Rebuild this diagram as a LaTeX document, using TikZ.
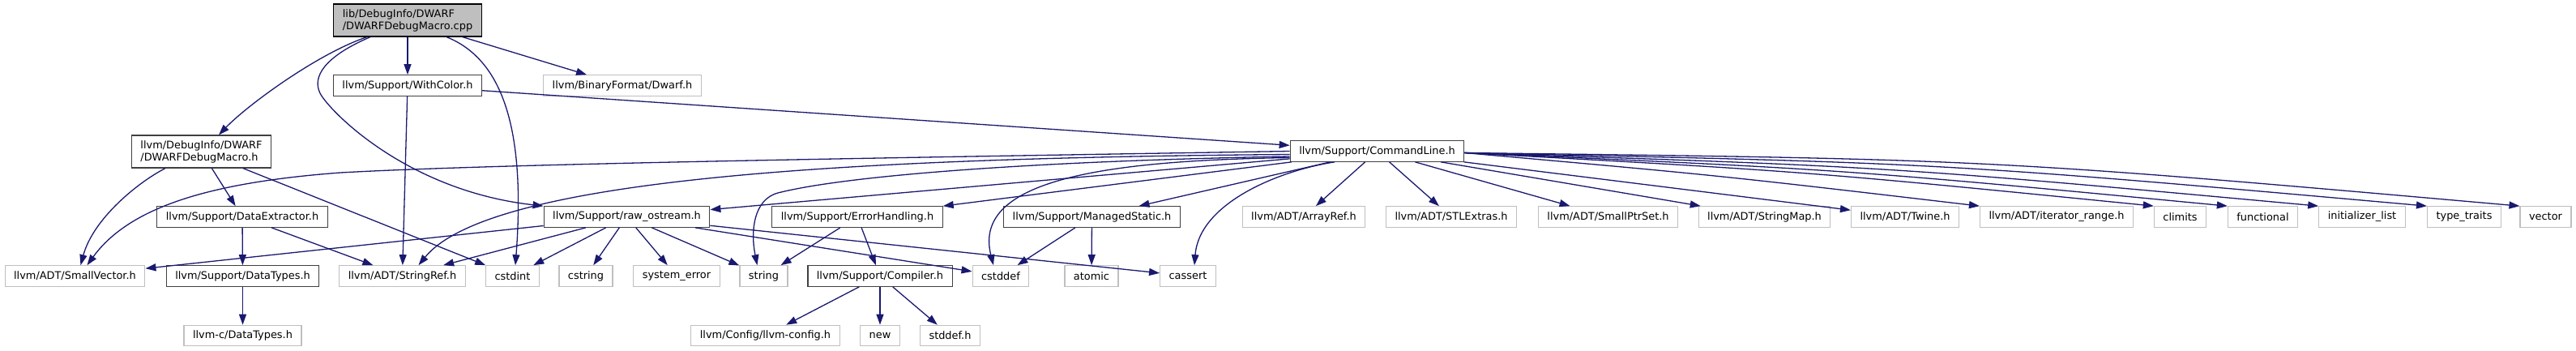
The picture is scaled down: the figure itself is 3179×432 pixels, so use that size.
\documentclass[tikz,border=0pt]{standalone}
\usepackage{fontspec}
\setmainfont{DejaVu Sans}
\usepackage{tikz}
\usetikzlibrary{arrows.meta, positioning}
\definecolor{edgeblue}{HTML}{191970}
\definecolor{nodegray}{HTML}{BFBFBF}

\begin{document}
\begin{tikzpicture}[
        x=1pt, y=-1pt,
        file/.style={rectangle, draw=black!75, fill=white, line width=1.2pt,
                     minimum height=25.5pt, inner xsep=11pt, inner ysep=0pt,
                     font=\fontsize{12.9}{15}\selectfont},
        extfile/.style={file, draw=nodegray},
        twoline/.style={align=left, minimum height=40pt},
        arrow/.style={-{Triangle[length=13pt, width=9pt]}, draw=edgeblue, line width=1.3pt},
    ]
    \useasboundingbox (0,0) rectangle (3179,432);

    % ====== top: the source file and its direct includes ======
    \node[file, twoline, fill=nodegray, draw=black] (main) at (503, 25)
        {lib/DebugInfo/DWARF\\/DWARFDebugMacro.cpp};
    \node[file]    (withcolor) at (503, 105.5) {llvm/Support/WithColor.h};
    \node[extfile] (dwarf)     at (768, 105.5) {llvm/BinaryFormat/Dwarf.h};
    \node[file, twoline] (dwmacro) at (248.5, 187) {llvm/DebugInfo/DWARF\\/DWARFDebugMacro.h};
    \node[file]    (cmdline)   at (1699.5, 186.5) {llvm/Support/CommandLine.h};

    % ====== row 4 ======
    \node[file]    (dext)      at (299, 267.5)    {llvm/Support/DataExtractor.h};
    \node[file]    (rawos)     at (773.5, 267.5)  {llvm/Support/raw\_ostream.h};
    \node[file]    (errh)      at (1058, 267.5)   {llvm/Support/ErrorHandling.h};
    \node[file]    (mstatic)   at (1347.5, 267.5) {llvm/Support/ManagedStatic.h};
    \node[extfile] (aref)      at (1609, 267.5)   {llvm/ADT/ArrayRef.h};
    \node[extfile] (stlx)      at (1791, 267.5)   {llvm/ADT/STLExtras.h};
    \node[extfile] (sptr)      at (1984.5, 267.5) {llvm/ADT/SmallPtrSet.h};
    \node[extfile] (smap)      at (2177.5, 267.5) {llvm/ADT/StringMap.h};
    \node[extfile] (twine)     at (2351, 267.5)   {llvm/ADT/Twine.h};
    \node[extfile] (irange)    at (2538, 267.5)   {llvm/ADT/iterator\_range.h};
    \node[extfile] (climits)   at (2690.5, 267.5) {climits};
    \node[extfile] (functional) at (2792.5, 267.5) {functional};
    \node[extfile] (initlist)  at (2915, 267.5)   {initializer\_list};
    \node[extfile] (ttraits)   at (3041, 267.5)   {type\_traits};
    \node[extfile] (vector)    at (3141.5, 267.5) {vector};

    % ====== row 5 ======
    \node[extfile] (svec)      at (92.5, 340.5)   {llvm/ADT/SmallVector.h};
    \node[file]    (dtypes)    at (299.5, 340.5)  {llvm/Support/DataTypes.h};
    \node[extfile] (sref)      at (496.5, 340.5)  {llvm/ADT/StringRef.h};
    \node[extfile] (cstdint)   at (632.5, 340.5)  {cstdint};
    \node[extfile] (cstring)   at (723, 340.5)    {cstring};
    \node[extfile] (syserr)    at (835, 340.5)    {system\_error};
    \node[extfile] (str)       at (942.5, 340.5)  {string};
    \node[file]    (compiler)  at (1086, 340.5)   {llvm/Support/Compiler.h};
    \node[extfile] (cstddef)   at (1235, 340.5)   {cstddef};
    \node[extfile] (atomic)    at (1347, 340.5)   {atomic};
    \node[extfile] (cassert)   at (1466, 340.5)   {cassert};

    % ====== row 6 ======
    \node[extfile] (cdtypes)   at (299.5, 414)    {llvm-c/DataTypes.h};
    \node[extfile] (lconfig)   at (944.5, 414)    {llvm/Config/llvm-config.h};
    \node[extfile] (new)       at (1086, 414)     {new};
    \node[extfile] (stddefh)   at (1172.5, 414)   {stddef.h};

    % ====== edges of the .cpp ======
    \draw[arrow] ([xshift=-50pt]main.south) .. controls (392,66) and (305,130)
        .. ([xshift=21.5pt]dwmacro.north);
    \draw[arrow] ([xshift=-46pt]main.south) .. controls (400,70) and (385,95) .. (395,115)
        .. controls (405,135) and (500,235) .. (rawos.north west);
    \draw[arrow] (main) -- (withcolor);
    \draw[arrow] ([xshift=48pt]main.south) .. controls (625,75) and (648,170)
        .. ([xshift=3.5pt]cstdint.north);
    \draw[arrow] (main) -- (dwarf);

    % ====== WithColor.h, DWARFDebugMacro.h, DataExtractor.h ======
    \draw[arrow] (withcolor) -- (sref);
    \draw[arrow] (withcolor) -- (cmdline);
    \draw[arrow] ([xshift=-44.5pt]dwmacro.south) .. controls (170,225) and (115,270)
        .. ([xshift=7pt]svec.north);
    \draw[arrow] (dwmacro) -- (dext);
    \draw[arrow] (dwmacro) -- (cstdint);
    \draw[arrow] (dext) -- (dtypes);
    \draw[arrow] (dext) -- (sref);
    \draw[arrow] (dtypes) -- (cdtypes);

    % ====== CommandLine.h ======
    \draw[arrow] (cmdline.west) .. controls (1000,196) and (600,203) .. (420,213)
        .. controls (260,225) and (160,255) .. ([xshift=15pt]svec.north);
    \draw[arrow] ([yshift=-4pt]cmdline.west) .. controls (1000,195) and (600,225)
        .. ([xshift=20pt]sref.north);
    \draw[arrow] ([yshift=-6.5pt]cmdline.west) .. controls (1300,198) and (1050,215) .. (960,238)
        .. controls (930,246) and (926,285) .. ([xshift=-8pt]str.north);
    \draw[arrow] ([yshift=-8pt]cmdline.west) .. controls (1350,198) and (1200,225)
        .. ([xshift=-9pt]cstddef.north);
    \draw[arrow] ([xshift=-52.5pt]cmdline.south) .. controls (1580,210) and (1480,250)
        .. ([xshift=8pt]cassert.north);
    \draw[arrow] (cmdline) -- (rawos);
    \draw[arrow] (cmdline) -- (errh);
    \draw[arrow] (cmdline) -- (mstatic);
    \draw[arrow] (cmdline) -- (aref);
    \draw[arrow] (cmdline) -- (stlx);
    \draw[arrow] (cmdline) -- (sptr);
    \draw[arrow] (cmdline) -- (smap);
    \draw[arrow] (cmdline) -- (twine);
    \draw[arrow] ([yshift=-2pt]cmdline.east) .. controls (2122,216.5) .. (irange.north west);
    \draw[arrow] ([yshift=-2pt]cmdline.east) .. controls (2229,211.5) .. (climits.north west);
    \draw[arrow] ([yshift=-2pt]cmdline.east) .. controls (2275,209) .. (functional.north west);
    \draw[arrow] ([yshift=-2pt]cmdline.east) .. controls (2329.5,205.5) .. (initlist.north west);
    \draw[arrow] ([yshift=-2pt]cmdline.east) .. controls (2396.5,201) .. (ttraits.north west);
    \draw[arrow] ([yshift=-2pt]cmdline.east) .. controls (2455,196.5) .. (vector.north west);

    % ====== raw_ostream.h ======
    \draw[arrow] (rawos) -- (svec);
    \draw[arrow] (rawos) -- (sref);
    \draw[arrow] (rawos) -- (cstdint);
    \draw[arrow] (rawos) -- (cstring);
    \draw[arrow] (rawos) -- (syserr);
    \draw[arrow] (rawos) -- (str);
    \draw[arrow] (rawos) -- (cstddef);
    \draw[arrow] (rawos) -- (cassert);

    % ====== ErrorHandling.h, ManagedStatic.h, Compiler.h ======
    \draw[arrow] (errh) -- (str);
    \draw[arrow] (errh) -- (compiler);
    \draw[arrow] (mstatic) -- (cstddef);
    \draw[arrow] (mstatic) -- (atomic);
    \draw[arrow] (compiler) -- (lconfig);
    \draw[arrow] (compiler) -- (new);
    \draw[arrow] (compiler) -- (stddefh);

\end{tikzpicture}
\end{document}
